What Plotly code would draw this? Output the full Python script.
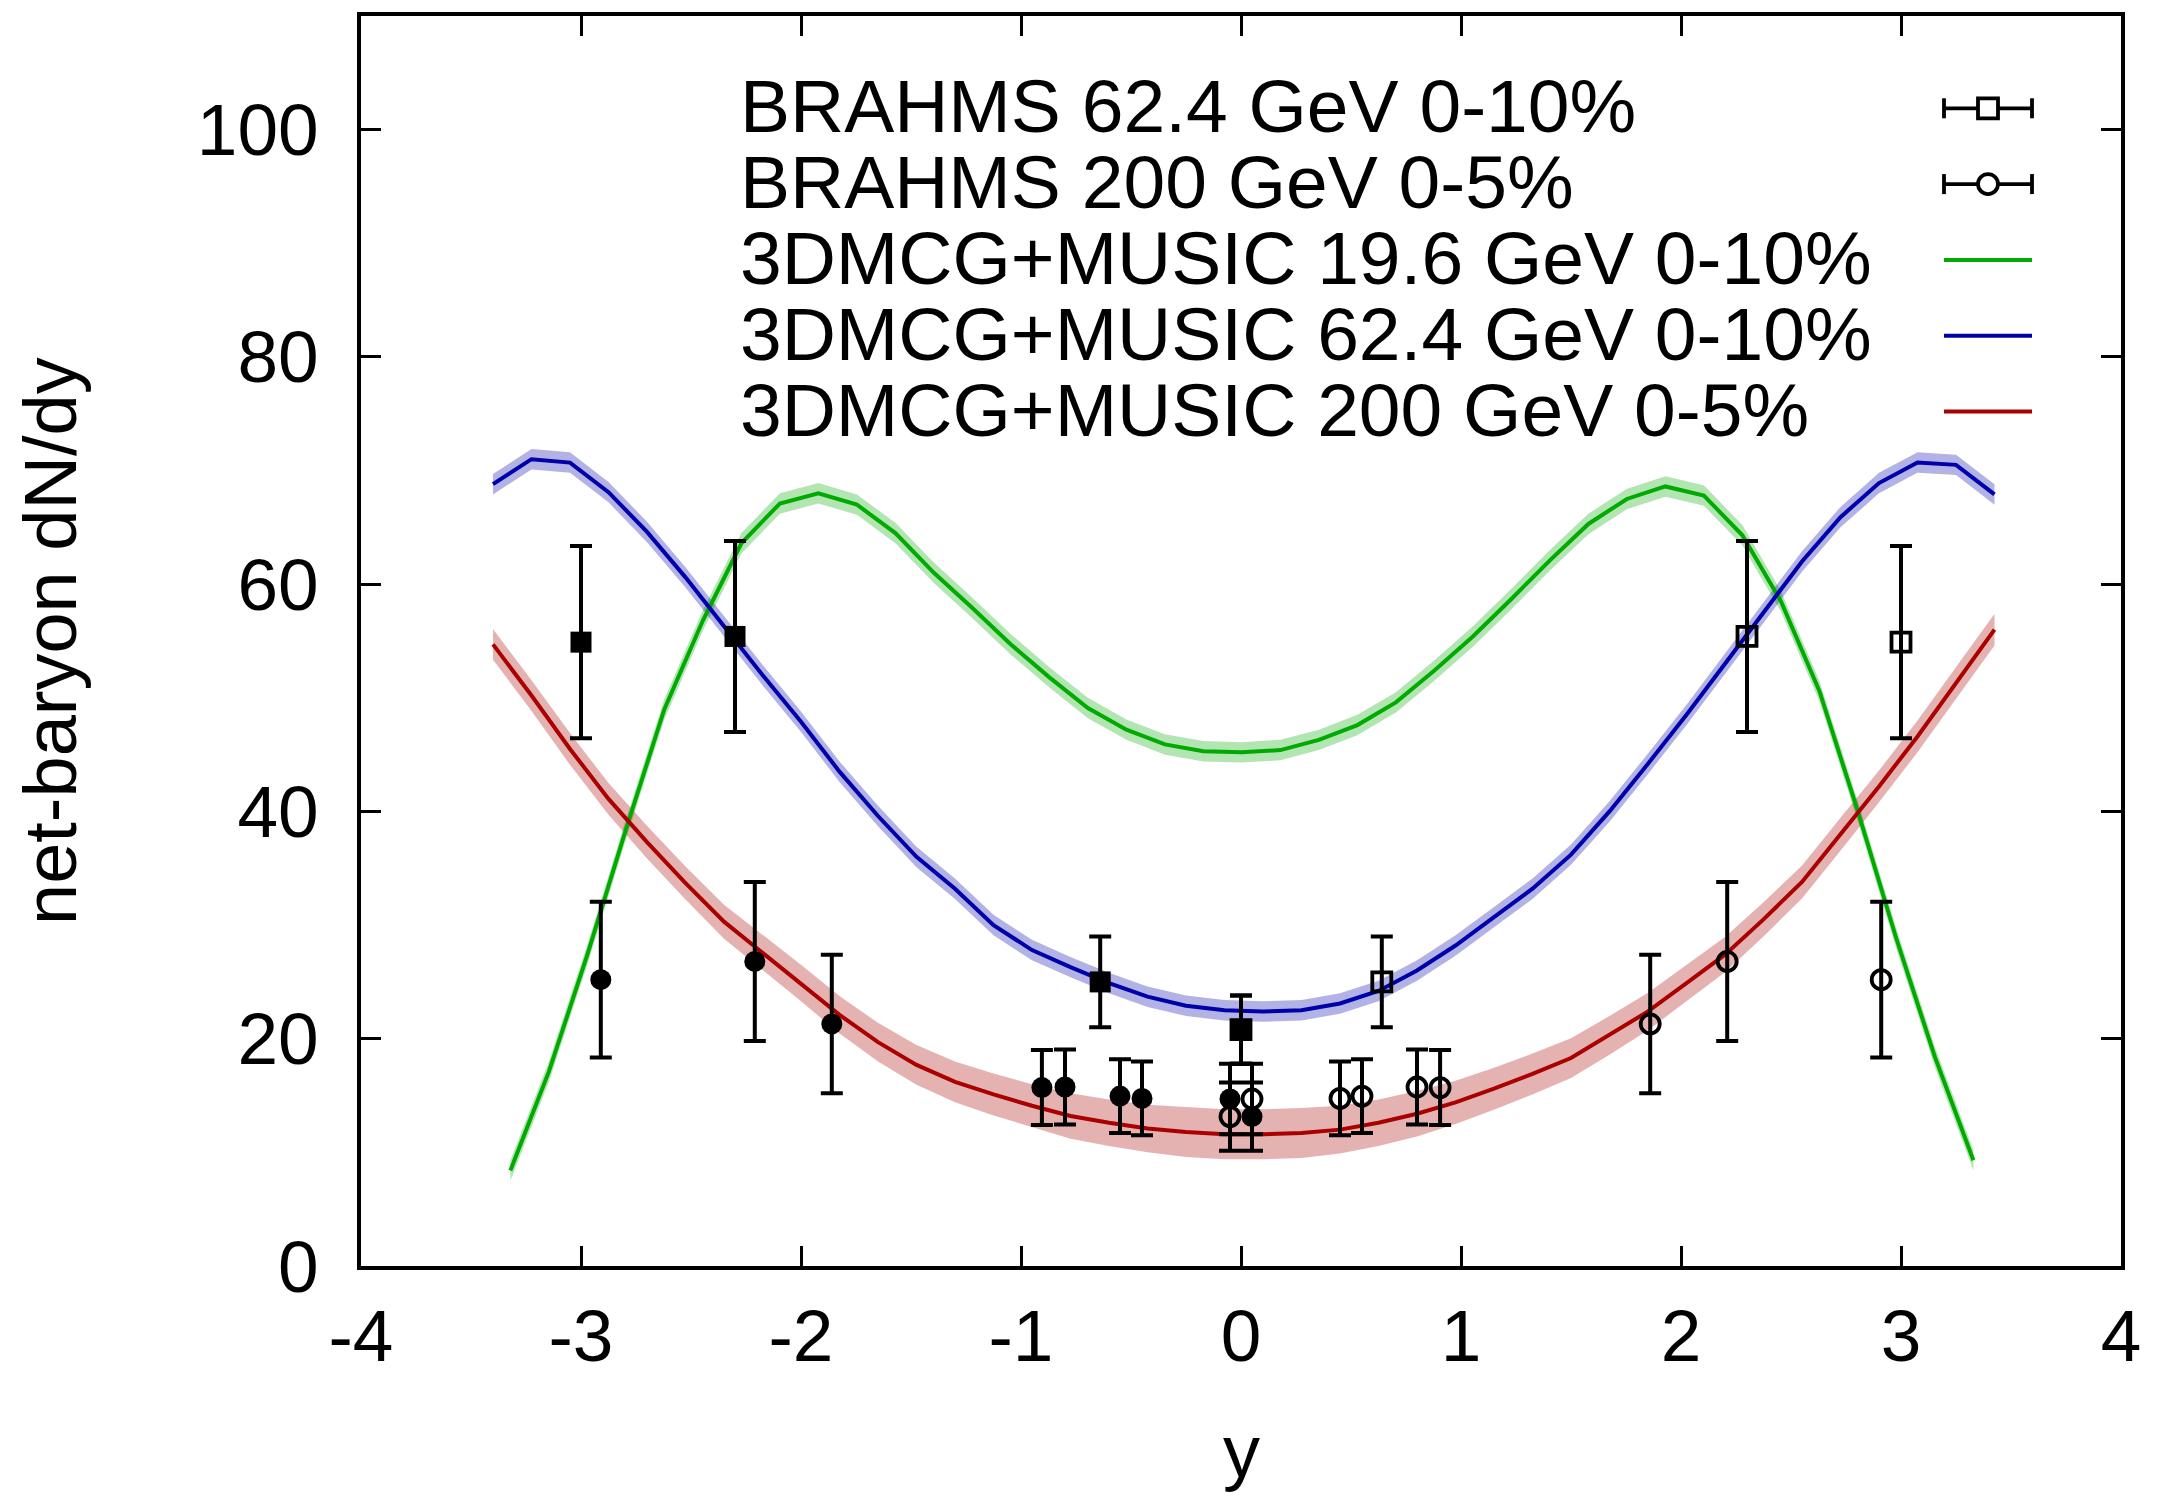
import plotly.graph_objects as go

# ---------------- data ----------------
# model curves (62.4 and 200 GeV share the same rapidity grid)
model_x = [-3.400, -3.225, -3.050, -2.875, -2.700, -2.525, -2.350, -2.175, -2.000, -1.825,
           -1.650, -1.475, -1.300, -1.125, -0.950, -0.775, -0.600, -0.425, -0.250, -0.075,
           0.100, 0.275, 0.450, 0.625, 0.800, 0.975, 1.150, 1.325, 1.500, 1.675,
           1.850, 2.025, 2.200, 2.375, 2.550, 2.725, 2.900, 3.075, 3.250, 3.425]

blue_y = [68.8, 71.0, 70.7, 68.1, 64.6, 60.6, 56.3, 52.0, 47.9, 43.5,
          39.6, 36.0, 33.2, 30.0, 27.8, 26.3, 24.9, 23.7, 22.9, 22.5,
          22.4, 22.5, 23.1, 24.2, 26.0, 28.2, 30.7, 33.2, 36.2, 40.0,
          44.2, 48.5, 53.0, 57.5, 62.0, 65.9, 68.9, 70.7, 70.5, 67.9]
blue_err = [0.9] * len(blue_y)

red_y = [54.7, 50.2, 45.5, 41.1, 37.3, 33.7, 30.3, 27.6, 24.9, 22.1,
         19.7, 17.7, 16.2, 15.1, 14.1, 13.2, 12.6, 12.1, 11.8, 11.6,
         11.6, 11.7, 12.0, 12.6, 13.4, 14.4, 15.6, 16.9, 18.3, 20.3,
         22.4, 24.9, 27.4, 30.5, 33.8, 38.0, 42.2, 46.6, 51.3, 56.0]
red_err = [1.35, 1.35, 1.4, 1.4, 1.45, 1.45, 1.5, 1.55, 1.6, 1.65,
           1.7, 1.75, 1.8, 1.85, 1.9, 2.0, 2.05, 2.1, 2.2, 2.2,
           2.2, 2.2, 2.1, 2.05, 2.0, 1.9, 1.85, 1.8, 1.75, 1.7,
           1.65, 1.6, 1.55, 1.5, 1.45, 1.45, 1.4, 1.4, 1.4, 1.4]

green_x = [-3.321, -3.146, -2.971, -2.796, -2.621, -2.446, -2.271, -2.096, -1.921, -1.746,
           -1.571, -1.396, -1.221, -1.046, -0.871, -0.696, -0.521, -0.346, -0.171, 0.004,
           0.179, 0.354, 0.529, 0.704, 0.879, 1.054, 1.229, 1.404, 1.579, 1.754,
           1.929, 2.104, 2.279, 2.454, 2.629, 2.804, 2.979, 3.154, 3.329]
green_y = [8.4, 17.1, 27.4, 38.4, 49.0, 56.8, 63.6, 67.1, 68.0, 67.0,
           64.5, 61.0, 57.9, 54.7, 51.8, 49.1, 47.2, 45.9, 45.3, 45.2,
           45.4, 46.3, 47.6, 49.6, 52.4, 55.4, 58.7, 62.1, 65.3, 67.5,
           68.6, 67.8, 64.3, 58.5, 50.6, 40.0, 28.8, 18.4, 9.3]
green_err = [0.9] * len(green_y)

# BRAHMS 62.4 GeV 0-10% (open: measured, filled: reflected)
b62_x = [0.0, 0.64, 2.30, 3.00]
b62_y = [20.8, 25.0, 55.4, 54.9]
b62_err = [3.0, 4.0, 8.4, 8.45]
b62_xr = [-0.0, -0.64, -2.30, -3.00]

# BRAHMS 200 GeV 0-5%
b200_x = [-0.05, 0.05, 0.45, 0.55, 0.80, 0.905, 1.86, 2.21, 2.91]
b200_y = [13.15, 14.7, 14.75, 14.95, 15.75, 15.7, 21.3, 26.8, 25.2]
b200_err = [3.0, 3.1, 3.25, 3.25, 3.3, 3.3, 6.1, 7.0, 6.85]
b200_xr = [0.05, -0.05, -0.45, -0.55, -0.80, -0.905, -1.86, -2.21, -2.91]

legend_labels = ["BRAHMS 62.4 GeV 0-10%", "BRAHMS 200 GeV 0-5%",
                 "3DMCG+MUSIC 19.6 GeV 0-10%", "3DMCG+MUSIC 62.4 GeV 0-10%",
                 "3DMCG+MUSIC 200 GeV 0-5%"]

x_ticks = [-4, -3, -2, -1, 0, 1, 2, 3, 4]
y_ticks = [0, 20, 40, 60, 80, 100]

# ---------------- styling ----------------
FONT = "Liberation Sans"
GREEN = "#00aa00"
BLUE = "#0000aa"
RED = "#aa0000"
GREEN_BAND = "rgba(0,170,0,0.30)"
BLUE_BAND = "rgba(0,0,170,0.30)"
RED_BAND = "rgba(170,0,0,0.30)"

fig = go.Figure()


def add_band(x, y, e, fillcol):
    lo = [a - b for a, b in zip(y, e)]
    hi = [a + b for a, b in zip(y, e)]
    fig.add_trace(go.Scatter(x=x, y=lo, mode="lines", line=dict(width=0, color=fillcol),
                             showlegend=False, hoverinfo="skip"))
    fig.add_trace(go.Scatter(x=x, y=hi, mode="lines", line=dict(width=0, color=fillcol),
                             fill="tonexty", fillcolor=fillcol, showlegend=False, hoverinfo="skip"))


add_band(green_x, green_y, green_err, GREEN_BAND)
add_band(model_x, blue_y, blue_err, BLUE_BAND)
add_band(model_x, red_y, red_err, RED_BAND)

LW = 4
fig.add_trace(go.Scatter(x=green_x, y=green_y, mode="lines", line=dict(color=GREEN, width=LW),
                         showlegend=False))
fig.add_trace(go.Scatter(x=model_x, y=blue_y, mode="lines", line=dict(color=BLUE, width=LW),
                         showlegend=False))
fig.add_trace(go.Scatter(x=model_x, y=red_y, mode="lines", line=dict(color=RED, width=LW),
                         showlegend=False))

eb = lambda arr: dict(type="data", array=arr, visible=True, color="black", thickness=4, width=11)

fig.add_trace(go.Scatter(x=b62_xr, y=b62_y, mode="markers", error_y=eb(b62_err),
                         marker=dict(symbol="square", size=21, color="black"), showlegend=False))
fig.add_trace(go.Scatter(x=b62_x, y=b62_y, mode="markers", error_y=eb(b62_err),
                         marker=dict(symbol="square-open", size=19, color="black",
                                     line=dict(width=3.8, color="black")), showlegend=False))
fig.add_trace(go.Scatter(x=b200_xr, y=b200_y, mode="markers", error_y=eb(b200_err),
                         marker=dict(symbol="circle", size=21, color="black"), showlegend=False))
fig.add_trace(go.Scatter(x=b200_x, y=b200_y, mode="markers", error_y=eb(b200_err),
                         marker=dict(symbol="circle-open", size=19, color="black",
                                     line=dict(width=3.8, color="black")), showlegend=False))

# ---------------- manual key (text left, samples right) ----------------
L, R, T, B = 361, 42, 13, 230
W, H = 2163, 1496
PW, PH = W - L - R, H - T - B


def px2x(px):
    return (px - L) / PW


def py2y(py):
    return (H - B - py) / PH


row_py = [103.5, 179.5, 255.5, 331.5, 407.5]
annotations = []
for lab, ry in zip(legend_labels, row_py):
    annotations.append(dict(text=lab, xref="paper", yref="paper", x=px2x(738), y=py2y(ry),
                            xanchor="left", yanchor="middle", showarrow=False,
                            font=dict(family=FONT, size=75, color="black")))

shapes = []
sx0, sx1, sxc = px2x(1944), px2x(2032), px2x(1988)
for i, ry in enumerate(row_py):
    yy = py2y(ry + 2)
    if i < 2:
        shapes.append(dict(type="line", xref="paper", yref="paper", x0=sx0, x1=sx1, y0=yy, y1=yy,
                           line=dict(color="black", width=3.8)))
        for cx in (sx0, sx1):
            shapes.append(dict(type="line", xref="paper", yref="paper", xsizemode="pixel",
                               ysizemode="pixel", xanchor=cx, yanchor=yy, x0=0, x1=0, y0=-10, y1=10,
                               line=dict(color="black", width=3.8)))
        shapes.append(dict(type="rect" if i == 0 else "circle", xref="paper", yref="paper",
                           xsizemode="pixel", ysizemode="pixel", xanchor=sxc, yanchor=yy,
                           x0=-10, x1=10, y0=-10, y1=10, fillcolor="white",
                           line=dict(color="black", width=3.8)))
    else:
        col = [GREEN, BLUE, RED][i - 2]
        shapes.append(dict(type="line", xref="paper", yref="paper", x0=sx0, x1=sx1, y0=yy, y1=yy,
                           line=dict(color=col, width=LW)))

# axis titles
annotations.append(dict(text="net-baryon dN/dy", xref="paper", yref="paper", x=px2x(50), y=0.5,
                        xanchor="center", yanchor="middle", textangle=-90, showarrow=False,
                        font=dict(family=FONT, size=74, color="black")))
annotations.append(dict(text="y", xref="paper", yref="paper", x=0.5, y=py2y(1452),
                        xanchor="center", yanchor="middle", showarrow=False,
                        font=dict(family=FONT, size=74, color="black")))

axis_common = dict(showline=True, linecolor="black", linewidth=3.5, mirror="ticks",
                   ticks="inside", ticklen=20, tickwidth=3, tickcolor="black",
                   showgrid=False, zeroline=False,
                   tickfont=dict(family=FONT, size=73, color="black"))

fig.update_layout(
    width=W, height=H,
    margin=dict(l=L, r=R, t=T, b=B, pad=0),
    paper_bgcolor="white", plot_bgcolor="white",
    xaxis=dict(range=[-4, 4], tickvals=x_ticks, ticktext=[str(v) for v in x_ticks],
               ticklabelstandoff=4, **axis_common),
    yaxis=dict(range=[0, 110], tickvals=y_ticks, ticktext=[str(v) for v in y_ticks],
               ticklabelstandoff=24, **axis_common),
    annotations=annotations,
    shapes=shapes,
    showlegend=False,
)

fig.write_html("out.html")
